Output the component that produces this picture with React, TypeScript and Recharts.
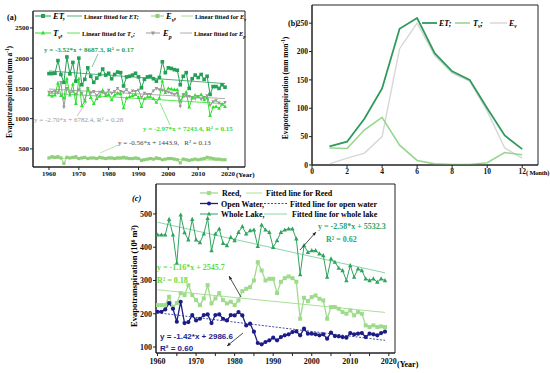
import React from 'react';
import {
  ComposedChart,
  Line,
  XAxis,
  YAxis,
  ReferenceLine,
  ReferenceArea,
} from 'recharts';

const FONT = '"Liberation Serif", "Times New Roman", serif';
const SANS = '"Liberation Sans", Arial, sans-serif';

// ---- panel (a): annual ET components, 1960-2019 (mm a-1)
const years = [
  1960, 1961, 1962, 1963, 1964, 1965, 1966, 1967, 1968, 1969,
  1970, 1971, 1972, 1973, 1974, 1975, 1976, 1977, 1978, 1979,
  1980, 1981, 1982, 1983, 1984, 1985, 1986, 1987, 1988, 1989,
  1990, 1991, 1992, 1993, 1994, 1995, 1996, 1997, 1998, 1999,
  2000, 2001, 2002, 2003, 2004, 2005, 2006, 2007, 2008, 2009,
  2010, 2011, 2012, 2013, 2014, 2015, 2016, 2017, 2018, 2019,
];
const etAnnual = [
  1745, 1745, 1750, 1960, 1730, 1600, 2020, 1740, 1930, 1620,
  2000, 1560, 1650, 1840, 1700, 1600, 1670, 1730, 1820, 1720,
  1750, 1660, 1730, 1770, 1760, 1540, 1690, 1700, 1720, 1750,
  1690, 1510, 1650, 1690, 1700, 1660, 1620, 1680, 1940, 1760,
  1840, 1830, 1810, 1800, 1560, 1700, 1760, 1500, 1660, 1720,
  1680, 1730, 1650, 1700, 1400, 1530, 1530, 1500, 1560, 1520,
];
const evAnnual = [
  350, 370, 360, 370, 350, 260, 360, 350, 360, 370,
  340, 350, 360, 340, 350, 350, 340, 360, 350, 340,
  350, 350, 340, 350, 350, 360, 350, 340, 340, 350,
  340, 310, 320, 330, 340, 330, 350, 340, 320, 330,
  340, 340, 330, 320, 270, 330, 320, 310, 320, 330,
  320, 330, 340, 360, 350, 340, 330, 330, 320, 320,
];
const tvAnnual = [
  1395, 1375, 1390, 1590, 1380, 1340, 1660, 1390, 1570, 1250,
  1660, 1210, 1290, 1500, 1350, 1250, 1330, 1370, 1470, 1380,
  1400, 1310, 1390, 1420, 1410, 1180, 1340, 1360, 1380, 1400,
  1350, 1200, 1330, 1360, 1360, 1330, 1270, 1340, 1620, 1430,
  1500, 1490, 1480, 1480, 1290, 1370, 1440, 1190, 1340, 1390,
  1360, 1400, 1310, 1340, 1050, 1190, 1200, 1170, 1240, 1200,
];
const epAnnual = [
  1440, 1440, 1450, 1430, 1600, 1190, 1500, 1420, 1450, 1400,
  1480, 1420, 1300, 1500, 1420, 1450, 1380, 1440, 1430, 1410,
  1470, 1420, 1450, 1500, 1450, 1440, 1480, 1420, 1460, 1450,
  1470, 1350, 1420, 1400, 1400, 1460, 1500, 1480, 1470, 1450,
  1440, 1420, 1400, 1420, 1200, 1400, 1380, 1370, 1350, 1330,
  1370, 1320, 1350, 1380, 1220, 1280, 1300, 1260, 1230, 1270,
];
// fitted lines, values at 1960 and 2019
const fitYears = [1960, 2019];
const fitEt = [1788, 1580];
const fitTv = [1422, 1247];
const fitEp = [1490, 1331];
const fitEv = [346, 313];

const yearTicksA = [1960, 1970, 1980, 1990, 2000, 2010, 2020];
const valueTicksA = [500, 1000, 1500, 2000, 2500];

// ---- panel (b): monthly means (mm mon-1)
const months = [1, 2, 3, 4, 5, 6, 7, 8, 9, 10, 11, 12];
const etMonthly = [33, 41, 82, 135, 240, 259, 197, 165, 150, 100, 52, 28];
const tvMonthly = [30, 29, 62, 84, 35, 8, 2, 1, 1, 4, 22, 18];
const evMonthly = [2, 12, 21, 50, 205, 250, 193, 162, 148, 95, 30, 12];
const monthTicks = [0, 2, 4, 6, 8, 10, 12];
const valueTicksB = [0, 50, 100, 150, 200, 250];

// ---- panel (c): lake ET volume (10^6 m3)
const reedVol = [
  226, 226, 226, 251, 220, 232, 262, 256, 286, 256,
  241, 226, 246, 286, 231, 246, 262, 241, 231, 236,
  226, 240, 268, 275, 280, 300, 355, 330, 300, 305,
  305, 262, 296, 307, 312, 307, 296, 185, 248, 238,
  250, 255, 245, 240, 185, 220, 220, 215, 205, 200,
  210, 195, 205, 200, 165, 160, 165, 160, 162, 160,
];
const openWaterVol = [
  206, 206, 213, 232, 215, 176, 236, 172, 175, 196,
  180, 185, 196, 198, 172, 196, 198, 185, 180, 196,
  195, 205, 195, 165, 170, 146, 112, 108, 115, 120,
  128, 120, 130, 135, 138, 145, 147, 135, 155, 140,
  140, 138, 135, 138, 125, 143, 133, 132, 130, 128,
  142, 138, 140, 142, 130, 140, 138, 135, 142, 146,
];
const wholeLakeVol = [
  437, 437, 437, 484, 437, 352, 497, 444, 422, 484,
  422, 414, 440, 487, 390, 440, 455, 412, 405, 430,
  420, 445, 462, 440, 450, 452, 403, 467, 452, 445,
  400, 420, 445, 452, 455, 455, 425, 318, 405, 385,
  390, 390, 380, 375, 310, 365, 355, 337, 330, 300,
  345, 310, 335, 330, 305, 300, 305, 295, 305, 300,
];
const fitReed = [272, 204];
const fitOpen = [203, 120];
const fitWhole = [475, 323];
const yearTicksC = [1960, 1965, 1970, 1975, 1980, 1985, 1990, 1995, 2000, 2005, 2010, 2015, 2020];
const valueTicksC = [100, 200, 300, 400, 500];

const C = {
  et: '#23a055',
  ev: '#8fcf7a',
  tv: '#2fe02f',
  ep: '#9a9a9a',
  etB: '#2e9a5c',
  tvB: '#97d68f',
  evB: '#d6d6d6',
  reed: '#9edc8c',
  open: '#1c1c86',
  whole: '#2fa35f',
  wholeFit: '#7fcfa0',
  axis: '#222',
};

const annualRows = years.map((year, i) => ({
  year,
  et: etAnnual[i],
  ev: evAnnual[i],
  tv: tvAnnual[i],
  ep: epAnnual[i],
}));
const monthlyRows = months.map((month, i) => ({
  month,
  et: etMonthly[i],
  tv: tvMonthly[i],
  ev: evMonthly[i],
}));
const lakeRows = years.map((year, i) => ({
  year,
  reed: reedVol[i],
  open: openWaterVol[i],
  whole: wholeLakeVol[i],
}));

type Shape = 'square' | 'circle' | 'tri' | 'invtri';

function Marker({ shape, x, y, r, color }: { shape: Shape; x: number; y: number; r: number; color: string }) {
  if (shape === 'square') return <rect x={x - r} y={y - r} width={2 * r} height={2 * r} fill={color} />;
  if (shape === 'circle') return <circle cx={x} cy={y} r={r} fill={color} />;
  if (shape === 'tri')
    return <path d={`M${x},${y - r * 1.2}L${x + r * 1.05},${y + r * 0.8}L${x - r * 1.05},${y + r * 0.8}Z`} fill={color} />;
  return <path d={`M${x},${y + r * 1.2}L${x + r * 1.05},${y - r * 0.8}L${x - r * 1.05},${y - r * 0.8}Z`} fill={color} />;
}

const dot = (shape: Shape, color: string, r: number) => (p: any) => {
  const { cx, cy, index } = p;
  if (cx == null || cy == null) return <g key={`d${index}`} />;
  return (
    <g key={`d${index}`}>
      <Marker shape={shape} x={cx} y={cy} r={r} color={color} />
    </g>
  );
};

const tickStyle = (size: number) => ({ fontSize: size, fontWeight: 700, fill: '#111', fontFamily: FONT });
const axisLine = { stroke: C.axis, strokeWidth: 1 };

function fitSegment(vals: number[]) {
  return [
    { x: fitYears[0], y: vals[0] },
    { x: fitYears[1], y: vals[1] },
  ];
}

const XA: [number, number] = [1954.64, 2025.7];
const YA: [number, number] = [200, 2780];

function PanelA() {
  return (
    <ComposedChart width={250} height={186} data={annualRows} margin={{ top: 11, right: 5, left: 0, bottom: 0 }}>
      <XAxis
        dataKey="year"
        type="number"
        domain={XA}
        ticks={yearTicksA}
        height={19}
        tickSize={3}
        tickMargin={1}
        tick={tickStyle(7)}
        axisLine={axisLine}
        tickLine={axisLine}
        allowDataOverflow
      />
      <YAxis
        type="number"
        domain={YA}
        ticks={valueTicksA}
        width={33}
        tickSize={3}
        tickMargin={1}
        tick={tickStyle(7)}
        axisLine={axisLine}
        tickLine={axisLine}
        allowDataOverflow
      />
      <ReferenceLine segment={fitSegment(fitEt)} stroke={C.et} strokeWidth={0.8} />
      <ReferenceLine segment={fitSegment(fitTv)} stroke={C.tv} strokeWidth={0.8} />
      <ReferenceLine segment={fitSegment(fitEp)} stroke={C.ep} strokeWidth={0.8} />
      <ReferenceLine segment={fitSegment(fitEv)} stroke={C.ev} strokeWidth={0.8} />
      <Line dataKey="ev" stroke={C.ev} strokeWidth={1} dot={dot('square', C.ev, 1.6)} activeDot={false} isAnimationActive={false} />
      <Line dataKey="ep" stroke={C.ep} strokeWidth={1} dot={dot('invtri', C.ep, 1.7)} activeDot={false} isAnimationActive={false} />
      <Line dataKey="tv" stroke={C.tv} strokeWidth={1} dot={dot('tri', C.tv, 1.8)} activeDot={false} isAnimationActive={false} />
      <Line dataKey="et" stroke={C.et} strokeWidth={1} dot={dot('square', C.et, 1.8)} activeDot={false} isAnimationActive={false} />
      <ReferenceArea x1={XA[0]} x2={XA[1]} y1={YA[0]} y2={YA[1]} fill="none" stroke={C.axis} strokeWidth={1} ifOverflow="visible" />
    </ComposedChart>
  );
}

const XB: [number, number] = [0, 12.9];
const YB: [number, number] = [0, 282];

function PanelB() {
  return (
    <ComposedChart width={280} height={186} data={monthlyRows} margin={{ top: 5, right: 12, left: 0, bottom: 0 }}>
      <XAxis
        dataKey="month"
        type="number"
        domain={XB}
        ticks={monthTicks}
        height={21}
        tickSize={3}
        tickMargin={1}
        tick={tickStyle(7.5)}
        axisLine={axisLine}
        tickLine={axisLine}
        allowDataOverflow
      />
      <YAxis
        type="number"
        domain={YB}
        ticks={valueTicksB}
        width={42}
        tickSize={3}
        tickMargin={1}
        tick={tickStyle(7.5)}
        axisLine={axisLine}
        tickLine={axisLine}
        allowDataOverflow
      />
      <Line dataKey="ev" stroke={C.evB} strokeWidth={1.4} dot={false} activeDot={false} isAnimationActive={false} />
      <Line dataKey="tv" stroke={C.tvB} strokeWidth={1.6} dot={false} activeDot={false} isAnimationActive={false} />
      <Line dataKey="et" stroke={C.etB} strokeWidth={1.8} dot={false} activeDot={false} isAnimationActive={false} />
      <ReferenceArea x1={XB[0]} x2={XB[1]} y1={YB[0]} y2={YB[1]} fill="none" stroke={C.axis} strokeWidth={1} ifOverflow="visible" />
    </ComposedChart>
  );
}

const XC: [number, number] = [1959.6, 2021.6];
const YC: [number, number] = [82, 590];

function PanelC() {
  return (
    <ComposedChart width={280} height={193} data={lakeRows} margin={{ top: 4, right: 15, left: 0, bottom: 0 }}>
      <XAxis
        dataKey="year"
        type="number"
        domain={XC}
        ticks={yearTicksC}
        tickFormatter={(v: number) => (v % 10 === 0 ? String(v) : '')}
        height={20}
        tickSize={3}
        tickMargin={2}
        tick={tickStyle(8)}
        axisLine={axisLine}
        tickLine={axisLine}
        allowDataOverflow
      />
      <YAxis
        type="number"
        domain={YC}
        ticks={valueTicksC}
        width={26}
        tickSize={3}
        tickMargin={1}
        tick={tickStyle(8)}
        axisLine={axisLine}
        tickLine={axisLine}
        allowDataOverflow
      />
      <ReferenceLine segment={fitSegment(fitWhole)} stroke={C.wholeFit} strokeWidth={0.9} />
      <ReferenceLine segment={fitSegment(fitReed)} stroke={C.reed} strokeWidth={0.9} />
      <ReferenceLine segment={fitSegment(fitOpen)} stroke={C.open} strokeWidth={0.8} strokeDasharray="2 1.5" />
      <Line dataKey="reed" stroke={C.reed} strokeWidth={1.3} dot={dot('square', C.reed, 2)} activeDot={false} isAnimationActive={false} />
      <Line dataKey="whole" stroke={C.whole} strokeWidth={1} dot={dot('tri', C.whole, 2.1)} activeDot={false} isAnimationActive={false} />
      <Line dataKey="open" stroke={C.open} strokeWidth={1.3} dot={dot('circle', C.open, 2.1)} activeDot={false} isAnimationActive={false} />
      <ReferenceArea x1={XC[0]} x2={XC[1]} y1={YC[0]} y2={YC[1]} fill="none" stroke={C.axis} strokeWidth={1} ifOverflow="visible" />
    </ComposedChart>
  );
}

// base text with a shifted small script and optional text after it
function Scr({ base, s, after, size, sup }: { base: string; s: string; after?: string; size: number; sup?: boolean }) {
  const d = sup ? -size * 0.4 : size * 0.3;
  return (
    <>
      <tspan>{base}</tspan>
      <tspan dy={d} fontSize={size * 0.68}>{s}</tspan>
      {after ? <tspan dy={-d}>{after}</tspan> : null}
    </>
  );
}

function LegendLine({ x1, x2, y, color, shape, width = 1, dash }: { x1: number; x2: number; y: number; color: string; shape?: Shape; width?: number; dash?: string }) {
  return (
    <g>
      <line x1={x1} x2={x2} y1={y} y2={y} stroke={color} strokeWidth={width} strokeDasharray={dash} />
      {shape && <Marker shape={shape} x={(x1 + x2) / 2} y={y} r={2} color={color} />}
    </g>
  );
}

function Arrow({ x1, y1, x2, y2 }: { x1: number; y1: number; x2: number; y2: number }) {
  // arrow head at (x1, y1)
  const a = Math.atan2(y1 - y2, x1 - x2);
  const L = 4;
  const p1 = [x1 - L * Math.cos(a - 0.4), y1 - L * Math.sin(a - 0.4)];
  const p2 = [x1 - L * Math.cos(a + 0.4), y1 - L * Math.sin(a + 0.4)];
  return (
    <g>
      <line x1={x1} y1={y1} x2={x2} y2={y2} stroke="#222" strokeWidth={0.8} />
      <path d={`M${x1},${y1}L${p1[0]},${p1[1]}L${p2[0]},${p2[1]}Z`} fill="#222" />
    </g>
  );
}

function Overlay() {
  const b = { fontFamily: FONT, fontWeight: 700 } as const;
  return (
    <svg width={550} height={373} style={{ position: 'absolute', left: 0, top: 0, pointerEvents: 'none' }}>
      {/* panel (a) */}
      <text x={7} y={20} fontSize={8} {...b}>(a)</text>
      <text transform="translate(12,92) rotate(-90)" textAnchor="middle" fontSize={7.5} {...b}>
        <Scr base="Evapotranspiration (mm a" s="-1" after=")" size={7.5} sup />
      </text>
      <text x={236} y={177} fontSize={7} {...b}>(Year)</text>
      <g fontSize={6.3} {...b}>
        <LegendLine x1={35} x2={51} y={16} color={C.et} shape="square" />
        <text x={53} y={19} fontSize={8.5} fontStyle="italic">ET,</text>
        <LegendLine x1={67} x2={82} y={16} color={C.et} width={0.8} />
        <text x={84} y={18.5}>Linear fitted for <tspan fontStyle="italic">ET;</tspan></text>
        <LegendLine x1={151} x2={164} y={16} color={C.ev} shape="square" />
        <text x={166} y={19} fontSize={8.5} fontStyle="italic"><Scr base="E" s="v" after="," size={8.5} /></text>
        <LegendLine x1={181} x2={193} y={16} color={C.ev} width={0.8} />
        <text x={195} y={18.5}>Linear fitted for <tspan fontStyle="italic">E</tspan><tspan dy={2} fontSize={4.5} fontStyle="italic">v</tspan></text>

        <LegendLine x1={35} x2={51} y={33} color={C.tv} shape="tri" />
        <text x={53} y={36} fontSize={8.5} fontStyle="italic"><Scr base="T" s="v" after="," size={8.5} /></text>
        <LegendLine x1={67} x2={80} y={33} color={C.tv} width={0.8} />
        <text x={82} y={35.5}>Linear fitted for <tspan fontStyle="italic">T</tspan><tspan dy={2} fontSize={4.5} fontStyle="italic">v</tspan><tspan dy={-2} fontStyle="italic">;</tspan></text>
        <LegendLine x1={146} x2={160} y={33} color={C.ep} shape="invtri" />
        <text x={163} y={36} fontSize={8.5} fontStyle="italic"><Scr base="E" s="p" size={8.5} /></text>
        <LegendLine x1={180} x2={192} y={33} color={C.ep} width={0.8} />
        <text x={194} y={35.5}>Linear fitted for <tspan fontStyle="italic">E</tspan><tspan dy={2} fontSize={4.5} fontStyle="italic">p</tspan></text>
      </g>
      <text x={44} y={52} fontSize={7} fill={C.et} {...b}>y = -3.52*x + 8687.3, R² = 0.17</text>
      <line x1={98} y1={54} x2={92} y2={67} stroke={C.et} strokeWidth={0.6} />
      <text x={34} y={122} fontSize={7} fill="#9a9a9a" fontFamily={FONT}>y = -2.70*x + 6782.4, R² = 0.28</text>
      <line x1={77} y1={116} x2={87} y2={101} stroke="#9a9a9a" strokeWidth={0.6} />
      <text x={143} y={131} fontSize={7} fill={C.tv} {...b}>y = -2.97*x + 7243.4, R² = 0.15</text>
      <line x1={170} y1={125} x2={160} y2={103} stroke={C.tv} strokeWidth={0.6} />
      <text x={118} y={145} fontSize={7} fill="#444" fontFamily={FONT} style={{ whiteSpace: 'pre' }}>y = -0.56*x + 1443.9,   R² = 0.13</text>
      <line x1={118} y1={145} x2={100} y2={153} stroke={C.ev} strokeWidth={0.6} />

      {/* panel (b) */}
      <text x={288} y={26} fontSize={8} {...b}>(b)</text>
      <text transform="translate(288,88) rotate(-90)" textAnchor="middle" fontSize={7.5} {...b}>
        <Scr base="Evapotranspiration (mm mon" s="-1" after=")" size={7.5} sup />
      </text>
      <text x={526} y={175} fontSize={6.5} letterSpacing={-0.2} {...b}>( Month)</text>
      <g fontSize={8} {...b} fontStyle="italic">
        <LegendLine x1={422} x2={437} y={23} color={C.etB} width={1.8} />
        <text x={439} y={26}>ET;</text>
        <LegendLine x1={455} x2={470} y={23} color={C.tvB} width={1.6} />
        <text x={473} y={26}><Scr base="T" s="v" after=";" size={8} /></text>
        <LegendLine x1={490} x2={507} y={23} color={C.evB} width={1.4} />
        <text x={509} y={26}><Scr base="E" s="v" size={8} /></text>
      </g>

      {/* panel (c) */}
      <text x={132} y={201} fontSize={8.5} fontStyle="italic" {...b}>(c)</text>
      <text transform="translate(137,276) rotate(-90)" textAnchor="middle" fontSize={8.5} {...b}>
        Evapotranspiration (10⁶ m³)
      </text>
      <text x={397} y={367} fontSize={8} {...b}>(Year)</text>
      <g fontSize={8} {...b}>
        <LegendLine x1={200} x2={218} y={193} color={C.reed} shape="square" width={1.3} />
        <text x={222} y={196}>Reed,</text>
        <LegendLine x1={246} x2={262} y={193} color={C.reed} width={0.9} />
        <text x={266} y={196}>Fitted line for Reed</text>
        <LegendLine x1={200} x2={218} y={203.5} color={C.open} shape="circle" width={1.3} />
        <text x={221} y={206.5}>Open Water,</text>
        <LegendLine x1={264} x2={287} y={203.5} color={C.open} width={0.8} dash="2 1.5" />
        <text x={290} y={206.5}>Fitted line for open water</text>
        <LegendLine x1={200} x2={218} y={214} color={C.whole} shape="tri" width={1} />
        <text x={221} y={217}>Whole Lake,</text>
        <LegendLine x1={264} x2={287} y={214} color={C.wholeFit} width={0.9} />
        <text x={292} y={217}>Fitted line for whole lake</text>
      </g>
      <text x={318} y={229} fontSize={8} fill={C.whole} {...b}>y = -2.58*x + 5532.3</text>
      <text x={326} y={242} fontSize={8} fill={C.whole} {...b}>R² = 0.62</text>
      <Arrow x1={316} y1={232} x2={300} y2={250} />
      <text x={157} y={270} fontSize={8} fill="#5fdc3c" {...b}>y = -1.16*x + 2545.7</text>
      <text x={157} y={283} fontSize={8} fill="#5fdc3c" {...b}>R² = 0.18</text>
      <Arrow x1={229} y1={276} x2={241} y2={297} />
      <text x={160} y={339} fontSize={8} fill={C.open} fontFamily={SANS} fontWeight={700}>y = -1.42*x + 2986.6</text>
      <text x={160} y={351} fontSize={8} fill={C.open} fontFamily={SANS} fontWeight={700}>R² = 0.60</text>
      <Arrow x1={227} y1={346} x2={243} y2={333} />
    </svg>
  );
}

export default function App() {
  return (
    <div style={{ position: 'absolute', left: 0, top: 0, width: 550, height: 373, background: '#fff', fontFamily: FONT, overflow: 'hidden' }}>
      <div style={{ position: 'absolute', left: 0, top: 0 }}>
        <PanelA />
      </div>
      <div style={{ position: 'absolute', left: 270, top: 0 }}>
        <PanelB />
      </div>
      <div style={{ position: 'absolute', left: 130, top: 180 }}>
        <PanelC />
      </div>
      <Overlay />
    </div>
  );
}
